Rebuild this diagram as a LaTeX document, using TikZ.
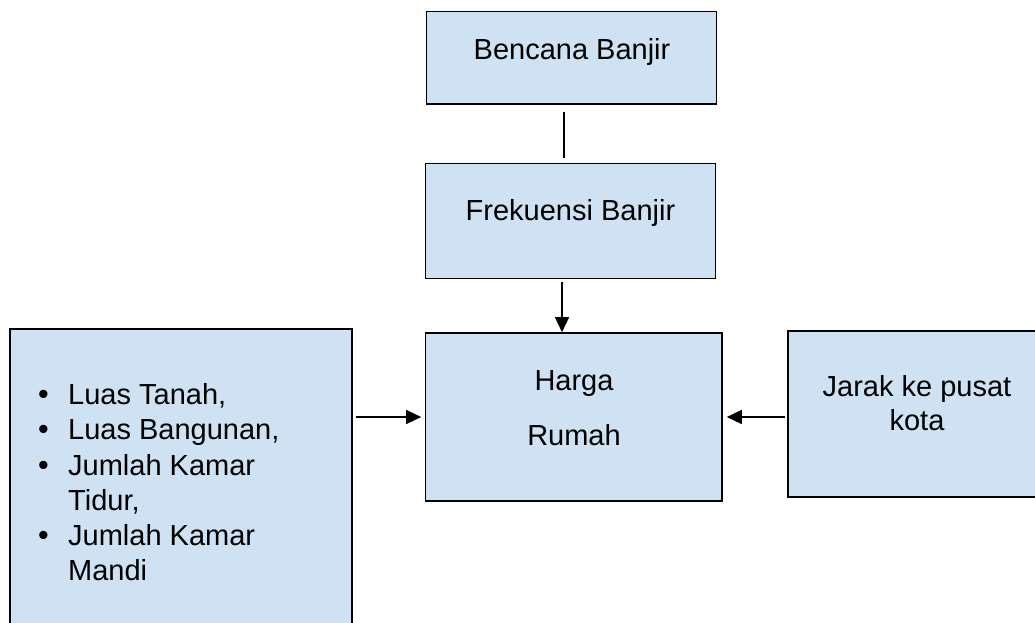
\documentclass[tikz,border=0pt]{standalone}
\usepackage{fontspec}
\setmainfont{Liberation Sans}
\usetikzlibrary{arrows.meta}
\definecolor{boxblue}{HTML}{CFE2F3}
\tikzset{
  box/.style={draw=black, fill=boxblue, line width=1.6pt, inner sep=0pt},
  lbl/.style={font=\fontsize{29}{34.5}\selectfont, inner sep=0pt, anchor=base},
  itemlbl/.style={font=\fontsize{29}{34.5}\selectfont, inner sep=0pt, anchor=base west},
  conn/.style={draw=black, line width=1.3pt},
  arr/.style={conn, -{Triangle[length=15pt,width=14pt]}}
}
\newcommand{\bul}{\makebox[37pt][l]{\hspace{7pt}\scalebox{1.05}{•}}}
\begin{document}
\begin{tikzpicture}[x=1pt,y=-1pt]
\clip (0,0) rectangle (1035,623);
\fill[white] (0,0) rectangle (1035,623);
% boxes
\node[box, minimum width=290pt, minimum height=92.5pt] (ben) at (571.5,57.75) {};
\node[box, minimum width=290pt, minimum height=115pt] (frek) at (570.5,221) {};
\node[box, minimum width=296.5pt, minimum height=168pt] (harga) at (573.75,417) {};
\node[box, minimum width=342pt, minimum height=320pt] (left) at (181,489) {};
\node[box, minimum width=262pt, minimum height=166pt] (right) at (919,414) {};
% texts
\node[lbl] (tben) at (572,60) {Bencana Banjir};
\node[lbl] (tfrek) at (570.5,220) {Frekuensi Banjir};
\node[lbl] (tharga1) at (574,390) {Harga};
\node[lbl] (tharga2) at (574,445) {Rumah};
\node[lbl] (tjarak1) at (917,396) {Jarak ke pusat};
\node[lbl] (tjarak2) at (917,430) {kota};
\node[itemlbl] (i1) at (31,404) {\bul Luas Tanah,};
\node[itemlbl] (i2) at (31,439) {\bul Luas Bangunan,};
\node[itemlbl] (i3) at (31,475) {\bul Jumlah Kamar};
\node[itemlbl] (i4) at (68,510) {Tidur,};
\node[itemlbl] (i5) at (31,545) {\bul Jumlah Kamar};
\node[itemlbl] (i6) at (68,580) {Mandi};
% connectors
\draw[conn, shorten <=7pt, shorten >=4.5pt] ([xshift=-7.5pt]ben.south) -- ([xshift=-7.5pt]ben.south |- frek.north);
\draw[arr, shorten <=2.5pt] ([xshift=-8.5pt]frek.south) -- ([xshift=-8.5pt]frek.south |- harga.north);
\draw[arr, shorten <=3pt, shorten >=3.5pt] (left.east |- harga.west) -- (harga.west);
\draw[arr, shorten <=2pt, shorten >=4pt] (right.west |- harga.east) -- (harga.east);
\end{tikzpicture}
\end{document}
